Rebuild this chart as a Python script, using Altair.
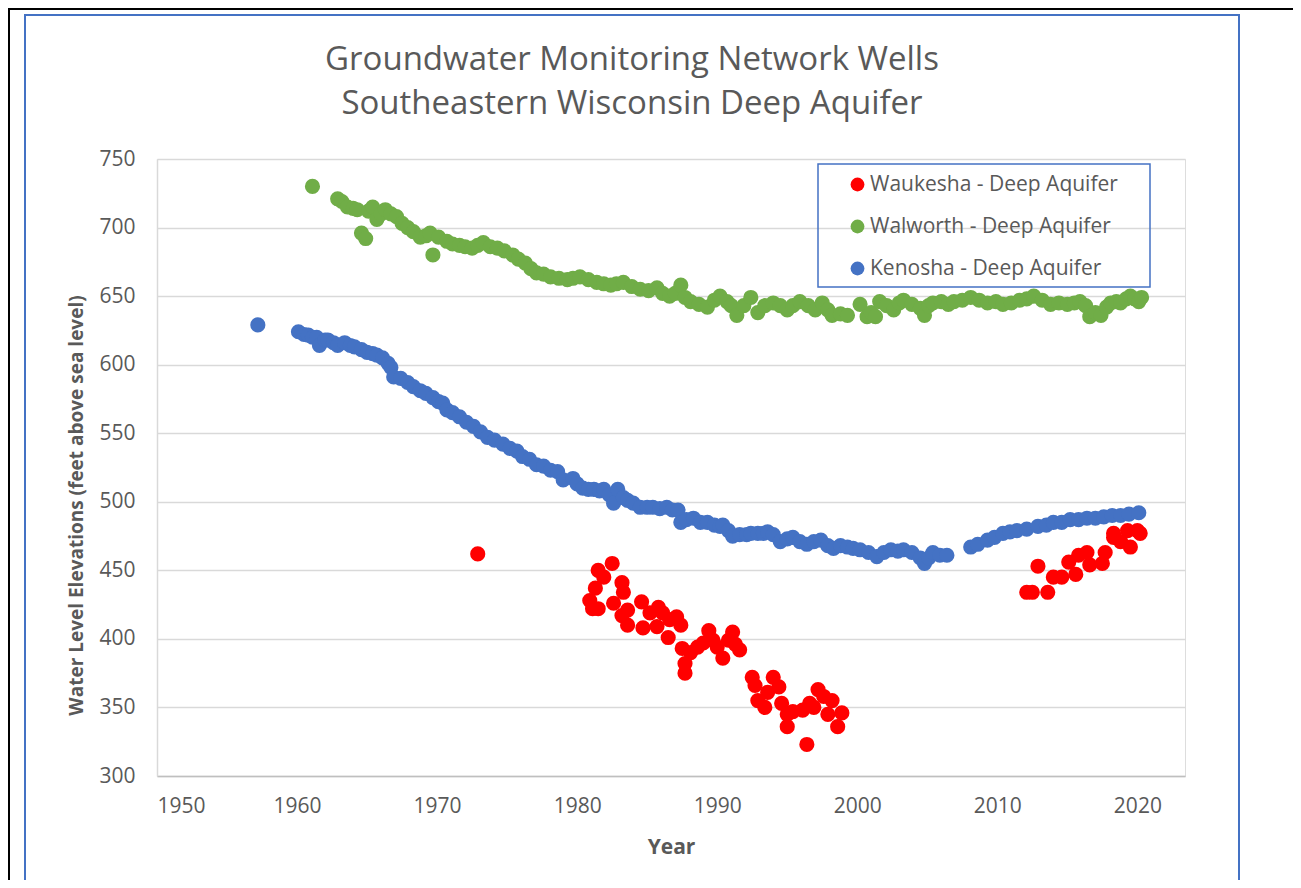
import altair as alt
import pandas as pd

# ---------------- data ----------------
wauk_year = [1972.9, 1980.9, 1981.1, 1981.3, 1981.5, 1981.5, 1981.9, 1982.5, 1982.6, 1983.2,
             1983.3, 1983.2, 1983.6, 1983.6, 1984.6, 1984.7, 1985.2, 1985.8, 1985.7, 1986.1,
             1986.6, 1986.5, 1987.1, 1987.4, 1987.5, 1987.7, 1987.7, 1988.1, 1988.6, 1989.0,
             1989.4, 1989.7, 1990.0, 1990.4, 1990.8, 1991.1, 1991.3, 1991.6, 1992.5, 1992.7,
             1992.9, 1993.4, 1993.6, 1994.0, 1994.4, 1994.6, 1995.0, 1995.0, 1995.4, 1996.1,
             1996.4, 1996.6, 1996.9, 1997.2, 1997.6, 1997.9, 1998.2, 1998.6, 1998.9,
             2012.1, 2012.5, 2012.9, 2013.6, 2014.0, 2014.6, 2015.1, 2015.6, 2015.8, 2016.4,
             2016.6, 2017.5, 2017.7, 2018.3, 2018.3, 2018.8, 2019.3, 2019.5, 2020.0, 2020.2]
wauk_val = [462, 428, 422, 437, 450, 422, 445, 455, 426, 441,
            434, 417, 421, 410, 427, 408, 419, 423, 409, 419,
            414, 401, 416, 410, 393, 382, 375, 390, 394, 397,
            406, 399, 394, 386, 399, 405, 396, 392, 372, 366,
            355, 350, 361, 372, 365, 353, 345, 336, 347, 348,
            323, 353, 350, 363, 358, 345, 355, 336, 346,
            434, 434, 453, 434, 445, 445, 456, 447, 461, 463,
            454, 455, 463, 474, 477, 471, 479, 467, 479, 477]

walw_year = [1961.1, 1962.9, 1963.2, 1963.6, 1964.0, 1964.3, 1964.6, 1964.9, 1965.1, 1965.4,
             1965.7, 1966.0, 1966.3, 1966.7, 1967.1, 1967.5, 1967.9, 1968.3, 1968.8, 1969.2,
             1969.5, 1969.7, 1970.1, 1970.7, 1971.1, 1971.6, 1972.0, 1972.5, 1972.9, 1973.3,
             1973.8, 1974.3, 1974.8, 1975.4, 1975.8, 1976.3, 1976.7, 1977.1, 1977.6, 1978.1,
             1978.7, 1979.3, 1979.7, 1980.2, 1980.8, 1981.4, 1981.9, 1982.4, 1982.8, 1983.3,
             1983.9, 1984.5, 1985.1, 1985.7, 1986.1, 1986.6, 1987.0, 1987.4, 1987.7, 1988.1,
             1988.7, 1989.3, 1989.8, 1990.2, 1990.7, 1991.0, 1991.4, 1991.9, 1992.4, 1992.9,
             1993.4, 1994.0, 1994.5, 1995.0, 1995.4, 1995.9, 1996.5, 1997.0, 1997.5, 1997.9,
             1998.2, 1998.8, 1999.3, 2000.2, 2000.7, 2001.0, 2001.3, 2001.6, 2002.1, 2002.6,
             2003.0, 2003.3, 2003.9, 2004.5, 2004.8, 2005.1, 2005.4, 2006.0, 2006.5, 2006.9,
             2007.5, 2008.1, 2008.7, 2009.3, 2009.9, 2010.4, 2011.0, 2011.6, 2012.1, 2012.6,
             2013.2, 2013.8, 2014.4, 2015.0, 2015.5, 2015.9, 2016.3, 2016.6, 2017.0, 2017.4,
             2017.8, 2018.1, 2018.5, 2018.8, 2019.2, 2019.5, 2019.8, 2020.1, 2020.3]
walw_val = [730, 721, 719, 715, 714, 713, 696, 692, 712, 715,
            706, 710, 713, 710, 708, 703, 700, 697, 693, 694,
            696, 680, 693, 690, 688, 687, 686, 685, 687, 689,
            686, 685, 683, 680, 677, 674, 670, 667, 666, 664,
            663, 662, 663, 664, 662, 660, 659, 658, 659, 660,
            657, 655, 654, 656, 652, 650, 652, 658, 649, 646,
            644, 642, 647, 650, 646, 643, 636, 643, 649, 638,
            643, 645, 643, 640, 643, 646, 643, 640, 645, 640,
            636, 637, 636, 644, 635, 638, 635, 646, 643, 640,
            645, 647, 644, 641, 636, 643, 645, 646, 644, 646,
            647, 649, 647, 645, 646, 644, 645, 647, 648, 650,
            647, 644, 645, 644, 645, 646, 643, 635, 638, 636,
            642, 645, 646, 645, 648, 650, 648, 646, 649]

keno_year = [1957.2, 1960.1, 1960.5, 1960.8, 1961.1, 1961.4, 1961.6, 1962.0, 1962.2, 1962.6,
             1962.9, 1963.4, 1963.8, 1964.1, 1964.6, 1965.0, 1965.4, 1965.7, 1966.1, 1966.5,
             1966.7, 1966.9, 1967.4, 1967.9, 1968.3, 1968.8, 1969.2, 1969.7, 1970.1, 1970.4,
             1970.7, 1971.1, 1971.6, 1972.1, 1972.6, 1973.1, 1973.6, 1974.1, 1974.7, 1975.2,
             1975.7, 1976.1, 1976.6, 1977.1, 1977.6, 1978.1, 1978.6, 1979.0, 1979.7, 1980.0,
             1980.4, 1980.8, 1981.2, 1981.6, 1981.9, 1982.3, 1982.6, 1982.9, 1983.3, 1983.6,
             1984.0, 1984.5, 1985.0, 1985.4, 1985.9, 1986.4, 1986.8, 1987.2, 1987.4, 1987.8,
             1988.3, 1988.8, 1989.3, 1989.8, 1990.2, 1990.4, 1990.8, 1991.1, 1991.6, 1992.1,
             1992.4, 1992.9, 1993.3, 1993.6, 1994.0, 1994.5, 1995.0, 1995.4, 1995.9, 1996.4,
             1996.9, 1997.4, 1997.9, 1998.3, 1998.8, 1999.3, 1999.7, 2000.2, 2000.8, 2001.4,
             2001.9, 2002.4, 2002.9, 2003.3, 2003.9, 2004.5, 2004.8, 2005.1, 2005.4, 2005.9,
             2006.4, 2008.1, 2008.6, 2009.3, 2009.8, 2010.4, 2010.9, 2011.4, 2012.1, 2012.9,
             2013.5, 2014.0, 2014.6, 2015.2, 2015.8, 2016.4, 2017.0, 2017.6, 2018.2, 2018.8,
             2019.4, 2020.1]
keno_val = [629, 624, 622, 621.6, 620, 620, 614, 618, 618, 616,
            614, 616, 614, 613, 611, 609, 608, 607, 605, 601,
            598, 591, 590, 587, 584, 581, 579, 576, 573, 572,
            567, 565, 562, 558, 555, 551, 547, 545, 542, 539,
            537, 533, 531, 527, 526, 523, 522, 516, 517, 513,
            510, 509, 509, 508, 509, 505, 499, 509, 503, 501,
            499, 496, 496, 496, 495, 496, 494, 494, 485, 487,
            488, 485, 485, 483, 482, 483, 479, 475, 476, 476,
            477, 477, 477, 478, 476, 471, 473, 474, 471, 469,
            471, 472, 468, 466, 468, 467, 466, 465, 463, 460,
            463, 465, 464, 465, 463, 459, 455, 459, 463, 461,
            461, 467, 469, 472, 474, 477, 478, 479, 480, 482,
            483, 485, 485, 487, 487, 488, 488, 489, 490, 490,
            491, 492]

series_names = ["Waukesha - Deep Aquifer", "Walworth - Deep Aquifer", "Kenosha - Deep Aquifer"]
series_colors = ["#ff0000", "#70ad47", "#4472c4"]
x_ticks = [1950, 1960, 1970, 1980, 1990, 2000, 2010, 2020]
y_ticks = [300, 350, 400, 450, 500, 550, 600, 650, 700, 750]
title_lines = ["Groundwater Monitoring Network Wells", "Southeastern Wisconsin Deep Aquifer"]

rows = []
for name, ys, vs in zip(series_names, [wauk_year, walw_year, keno_year], [wauk_val, walw_val, keno_val]):
    for y, v in zip(ys, vs):
        rows.append({"Year": y, "Elevation": v, "Series": name})
df = pd.DataFrame(rows)
df["order"] = range(len(df))

FONT = "Open Sans"
TXT = "#595959"
W, H = 1028, 617

points = alt.Chart(df).mark_circle(size=230, opacity=1).encode(
    x=alt.X("Year:Q",
            scale=alt.Scale(domain=[1950, 2023.4], nice=False, zero=False),
            axis=alt.Axis(values=x_ticks, format="d", title="Year", grid=False,
                          ticks=False, domainColor="#bfbfbf", domainWidth=1.5,
                          labelFontSize=21, labelColor=TXT, labelPadding=19, labelFont=FONT,
                          titleFontSize=21, titleFontWeight="bold", titleColor=TXT, titleFont=FONT,
                          titlePadding=20)),
    y=alt.Y("Elevation:Q",
            scale=alt.Scale(domain=[300, 750], nice=False, zero=False),
            axis=alt.Axis(values=y_ticks, title="Water Level Elevations (feet above sea level)",
                          grid=True, gridColor="#d9d9d9", gridWidth=1.5, ticks=False,
                          domainColor="#d9d9d9", domainWidth=1.5,
                          labelFontSize=21, labelColor=TXT, labelPadding=22, labelFont=FONT,
                          titleFontSize=19, titleFontWeight="bold", titleColor=TXT, titleFont=FONT,
                          titleX=-81, titleY=346, titleBaseline="middle")),
    color=alt.Color("Series:N",
                    scale=alt.Scale(domain=series_names, range=series_colors),
                    sort=series_names,
                    legend=alt.Legend(title=None, orient="none", legendX=690, legendY=15,
                                      labelFontSize=21, labelColor=TXT, labelFont=FONT,
                                      symbolSize=190, symbolType="circle", symbolStrokeWidth=0,
                                      rowPadding=20, labelOffset=2, padding=0,
                                      labelLimit=400)),
    order=alt.Order("order:Q"),
)

one = pd.DataFrame({"t": title_lines})
title1 = alt.Chart(one.iloc[[0]]).mark_text(
    font=FONT, fontSize=33, color=TXT, align="center", baseline="alphabetic").encode(
    text="t:N", x=alt.value(475), y=alt.value(-89))
title2 = alt.Chart(one.iloc[[1]]).mark_text(
    font=FONT, fontSize=33, color=TXT, align="center", baseline="alphabetic").encode(
    text="t:N", x=alt.value(475), y=alt.value(-45))

# decorative frames (legend box, chart-area border, page border)
legend_box = alt.Chart(one.iloc[[0]]).mark_rect(fill=None, stroke="#4472c4", strokeWidth=1.5).encode(
    x=alt.value(661), x2=alt.value(993), y=alt.value(5), y2=alt.value(128))
area_box = alt.Chart(one.iloc[[0]]).mark_rect(fill=None, stroke="#4472c4", strokeWidth=2).encode(
    x=alt.value(-132), x2=alt.value(1082), y=alt.value(-144), y2=alt.value(760))
top_line = alt.Chart(one.iloc[[0]]).mark_rule(color="black", strokeWidth=2).encode(
    x=alt.value(-149), x2=alt.value(1136), y=alt.value(-150))
left_line = alt.Chart(one.iloc[[0]]).mark_rule(color="black", strokeWidth=2).encode(
    x=alt.value(-148), y=alt.value(-150), y2=alt.value(760))

chart = alt.layer(points, title1, title2, legend_box, area_box, top_line, left_line).properties(
    width=W, height=H,
    autosize=alt.AutoSizeParams(type="none"),
    padding={"left": 149, "top": 151, "right": 108, "bottom": 104},
).configure_view(stroke=None).configure(background="white")

chart.save("out.html", embed_options={"renderer": "svg", "actions": False})
